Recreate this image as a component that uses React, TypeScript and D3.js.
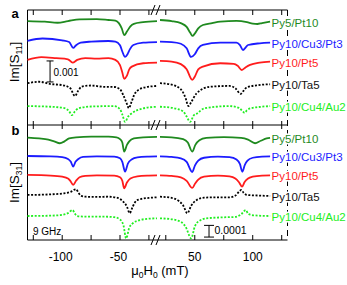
import React from "react";
import * as d3 from "d3";

// ---- data (field in mT, deviation from trace offset) ----
// panel a: Im[S11], units of 1e-4 ; panel b: Im[S31], units of 1e-5
const samples = ["Py5/Pt10", "Py10/Cu3/Pt3", "Py10/Pt5", "Py10/Ta5", "Py10/Cu4/Au2"];
const colors = ["#1f8a1f", "#1c1cff", "#ff1c1c", "#000000", "#22ee22"];
const dotted = [false, false, false, true, true];
const offsetsA = [49.5, 40, 31, 20, 9];
const offsetsB = [88.3, 71.8, 55.6, 38.5, 20.5];

const aGreenL = [[-130,0],[-115,-0.3],[-104,-0.8],[-95,0],[-85,0.8],[-70,0.9],[-60,0.5],[-54,0.2],[-51,-1],[-48.5,-3.5],[-46.3,-6.7],[-44,-5],[-41,-2.5],[-38,-1.3],[-30,-0.5],[-18,0]];
const aGreenR = [[20,0.5],[30,0],[38,-1],[43,-2.8],[46,-5.5],[48,-7.1],[50,-6],[53,-3.5],[57,-1.9],[65,-1],[72,-0.3],[86,0.1],[95,-0.5],[100,-1.2],[104,-1.4],[108,-1],[115,-0.3]];
const aBlueL = [[-130,0.1],[-117,1.2],[-100,0.3],[-94,-0.5],[-90.5,-3.3],[-88,-2],[-84,-0.8],[-75,-0.3],[-60,0],[-54,-0.3],[-50,-2],[-48,-5],[-45.6,-7.6],[-43.5,-6.3],[-41.5,-4],[-38.5,-1.9],[-30,-0.8],[-18,-0.5]];
const aBlueR = [[20,-0.3],[30,-0.5],[38,-1.3],[43,-3.5],[46.8,-7.6],[50,-6.3],[53,-3.5],[57,-1.9],[72,-0.8],[86,-0.8],[89,-2],[91.6,-4.3],[94,-3],[96,-1.9],[106,-1.1],[115,-0.8]];
const aRedL = [[-130,0],[-118,1.3],[-105,0.8],[-95,0.3],[-91,-1.3],[-87,0],[-80,0.8],[-70,0.6],[-60,0.8],[-54,0],[-50,-2.5],[-48,-6],[-46.4,-9],[-44,-7.5],[-42,-4.5],[-39.8,-3.2],[-30,-1.6],[-18,-1.3]];
const aRedR = [[20,-0.5],[30,-0.8],[38,-2],[43,-4.5],[47.8,-9.5],[50,-8],[53,-4.5],[57,-3.2],[72,-1.6],[83.6,-1.9],[87,-2.8],[90.6,-4.8],[94,-3.5],[97.7,-2.4],[106,-1.3],[115,-0.8]];
const aBlackL = [[-130,-0.1],[-120,0.6],[-110,-0.5],[-100,-1],[-93,-2.5],[-89,-6.2],[-86,-3.5],[-83,-1.7],[-75,-1.2],[-65,-1.8],[-55,-1.9],[-50,-3],[-47,-6],[-44,-10],[-42.4,-12],[-40,-9],[-37,-4.9],[-30,-2.3],[-18,-1.4]];
const aBlackR = [[20,-0.1],[30,-0.8],[38,-3],[42,-7],[44.5,-11],[47,-9],[51.6,-4.9],[63,-1.8],[80,-1.4],[85,-2.5],[89.6,-5.2],[92,-3.8],[94.8,-2.1],[105,-1],[115,-0.6]];
const aLimeL = [[-130,0],[-110,-0.3],[-98,-1],[-94,-2.5],[-91.6,-4.3],[-89,-2.5],[-86,-1.1],[-75,-0.2],[-55,0],[-50,-1.5],[-48,-4],[-45.6,-7.5],[-43,-5],[-40,-3.5],[-30,-1.1],[-18,-0.3]];
const aLimeR = [[20,-0.3],[30,-0.8],[40,-2.5],[43,-5],[46,-7.5],[49,-4.5],[52,-3.5],[58,-1.1],[80,0],[88,-0.8],[91,-2.3],[93,-3.2],[95,-2],[98,-1.1],[115,0]];

const bGreenL = [[-130,-0.8],[-120,-1.5],[-112,-2.5],[-107,-4],[-102,-5.6],[-98,-4],[-94,-1.5],[-88,-0.5],[-75,0],[-60,0],[-53,-0.5],[-50,-2],[-48,-5],[-46.4,-12.8],[-44,-7],[-42,-4],[-38,-1.5],[-30,-0.5],[-18,-0.2]];
const bGreenR = [[20,-0.2],[30,-0.5],[40,-2],[44,-5],[47.8,-12.8],[50.5,-7],[54,-3],[60,-1],[75,-0.3],[90,-1],[96,-2.5],[102,-5.6],[107,-3.5],[112,-1.5],[115,-1]];
const bBlueL = [[-130,0],[-110,-0.3],[-100,-1],[-95,-2.5],[-92.5,-5],[-90.5,-9.1],[-88.5,-5],[-86,-2.5],[-82,-0.8],[-70,-0.3],[-55,-0.5],[-50,-2],[-48,-5],[-45.6,-13.4],[-43.2,-6.5],[-40,-3],[-35,-1.2],[-25,-0.5],[-18,-0.3]];
const bBlueR = [[20,-0.3],[30,-0.8],[38,-2],[43,-5],[47.8,-13.7],[50.2,-8],[53,-4],[58,-1.5],[70,-0.5],[80,-1],[86,-3],[89,-7],[91,-13.4],[93.2,-7.5],[95.5,-4],[100,-1.5],[108,-0.5],[115,-0.3]];
const bRedL = [[-130,0],[-110,-0.5],[-100,-1.5],[-95,-3],[-93,-5],[-90.5,-8.5],[-88,-5],[-85,-2],[-80,-0.8],[-70,-0.3],[-55,-0.5],[-50,-2],[-48,-5],[-46.4,-11.4],[-44,-6.5],[-41,-3],[-35,-1.2],[-25,-0.5],[-18,-0.3]];
const bRedR = [[20,-0.3],[30,-0.8],[38,-2],[43,-5],[47.8,-11.1],[50.2,-7.5],[53,-4],[58,-1.5],[70,-0.6],[80,-1.2],[85,-3],[88,-6],[90.8,-10],[93,-6],[96,-3],[100,-1.5],[108,-0.5],[115,-0.3]];
const bBlackL = [[-130,0],[-110,0.5],[-100,1.2],[-93,2.5],[-88,4.9],[-86,2],[-84,-0.5],[-80,-1.5],[-70,-1.7],[-60,-1.5],[-52,-2.5],[-48,-5],[-44,-10],[-41.6,-15.6],[-39,-10],[-36,-5],[-32,-3.5],[-25,-2.5],[-18,-2]];
const bBlackR = [[20,-1.5],[30,-2.5],[36,-5],[40,-9],[43.6,-15.6],[47,-9],[51.7,-4.3],[58,-2.3],[70,-2],[80,-2],[85,-0.5],[88,2.5],[90.2,4.3],[92,2],[95,0],[105,-0.5],[115,-0.9]];
const bLimeL = [[-130,0],[-110,0.3],[-100,1],[-95,2.5],[-91,5.1],[-89,2],[-87,0],[-80,-0.5],[-65,-0.5],[-55,-1],[-50,-3],[-47,-8],[-44.7,-19.1],[-42,-10],[-39,-6.3],[-33,-3.5],[-25,-2.3],[-18,-2]];
const bLimeR = [[20,-2],[30,-2.8],[38,-5],[42,-9],[47,-19.1],[50,-9],[53,-4.8],[60,-2],[75,-1.1],[85,-0.8],[90,1.5],[94,5.1],[96,2],[99,0.9],[105,0.3],[115,0]];

const tracesA = [[aGreenL, aGreenR], [aBlueL, aBlueR], [aRedL, aRedR], [aBlackL, aBlackR], [aLimeL, aLimeR]];
const tracesB = [[bGreenL, bGreenR], [bBlueL, bBlueR], [bRedL, bRedR], [bBlackL, bBlackR], [bLimeL, bLimeR]];

const ticksL = [-125, -100, -75, -50, -25];
const ticksR = [25, 50, 75, 100, 125];
const labelsL = [-100, -50];
const labelsR = [50, 100];

const FONT = "'Liberation Sans', Arial, Helvetica, sans-serif";

export default function App() {
  const left = 27.5, right = 287.5;
  const top = 10, mid = 125, bottom = 240;
  const xL = d3.scaleLinear().domain([-130, -18]).range([left, 157]);
  const xR = d3.scaleLinear().domain([20, 130]).range([160, right]);
  const yA = d3.scaleLinear().domain([0, 115 / 2.1]).range([mid, top]);
  const yB = d3.scaleLinear().domain([0, 115 / 1.17]).range([bottom, mid]);

  const mkLine = (xs: any, ys: any, off: number) =>
    d3.line<number[]>().x((d) => xs(d[0])).y((d) => ys(off + d[1])).curve(d3.curveMonotoneX);

  const renderPanel = (traces: any[], offsets: number[], ys: any, key: string) =>
    traces.map((tr, i) => {
      const [L, R] = tr;
      const last = R[R.length - 1];
      const dash = dotted[i] ? "2,1.6" : undefined;
      return (
        <g key={key + i}>
          <path d={mkLine(xL, ys, offsets[i])(L) || ""} fill="none" stroke={colors[i]} strokeWidth={1.8} strokeDasharray={dash} />
          <path d={mkLine(xR, ys, offsets[i])(R) || ""} fill="none" stroke={colors[i]} strokeWidth={1.8} strokeDasharray={dash} />
          <text x={xR(last[0]) + 1.5} y={ys(offsets[i] + last[1]) + 5} fontSize={11.5} fill={colors[i] === "#000000" ? "#111" : colors[i]}
            fontFamily={FONT} stroke="#fff" strokeWidth={3} paintOrder="stroke" strokeLinejoin="round">
            {samples[i]}
          </text>
        </g>
      );
    });

  const breakMark = (y: number, k: string) => (
    <g key={k} stroke="#000" strokeWidth={1}>
      <line x1={151} y1={y + 5} x2={155} y2={y - 5} />
      <line x1={156} y1={y + 5} x2={160} y2={y - 5} />
    </g>
  );

  const tickGroup = (y: number, up: number, down: number, k: string) => (
    <g key={k} stroke="#000" strokeWidth={1}>
      {ticksL.map((t) => (
        <line key={"l" + t} x1={xL(t)} x2={xL(t)} y1={y - up} y2={y + down} />
      ))}
      {ticksR.map((t) => (
        <line key={"r" + t} x1={xR(t)} x2={xR(t)} y1={y - up} y2={y + down} />
      ))}
    </g>
  );

  return (
    <svg width={347} height={285} style={{ position: "absolute", left: 0, top: 0, background: "#fff" }} fontFamily={FONT}>
      {/* frame */}
      <g stroke="#000" strokeWidth={1} fill="none">
        <line x1={left} x2={left} y1={top} y2={bottom} />
        <line x1={left} x2={right} y1={top} y2={top} />
        <line x1={left} x2={right} y1={mid} y2={mid} />
        <line x1={left} x2={right} y1={bottom} y2={bottom} />
        <line x1={right} x2={right} y1={top} y2={bottom} strokeDasharray="6,4" />
      </g>
      {tickGroup(top, 0, 5, "t")}
      {tickGroup(mid, 4, 4, "m")}
      {tickGroup(bottom, 5, 0, "b")}
      {breakMark(top, "bk1")}
      {breakMark(mid, "bk2")}
      {breakMark(bottom, "bk3")}

      {/* tick labels */}
      {labelsL.map((t) => (
        <text key={"tl" + t} x={xL(t) - 1.5} y={261} fontSize={12} textAnchor="middle">{String(t)}</text>
      ))}
      {labelsR.map((t) => (
        <text key={"tr" + t} x={xR(t)} y={261} fontSize={12} textAnchor="middle">{String(t)}</text>
      ))}
      <text x={160} y={275} fontSize={13} textAnchor="middle">
        μ<tspan fontSize={8.5} dy={3}>0</tspan><tspan dy={-3}>H</tspan><tspan fontSize={8.5} dy={3}>0</tspan><tspan dy={-3}> (mT)</tspan>
      </text>

      {/* y labels */}
      <text transform="translate(19,62) rotate(-90)" fontSize={13.5} textAnchor="middle">
        Im[S<tspan fontSize={8.5} dy={3}>11</tspan><tspan dy={-3}>]</tspan>
      </text>
      <text transform="translate(19,182.5) rotate(-90)" fontSize={13.5} textAnchor="middle">
        Im[S<tspan fontSize={8.5} dy={3}>31</tspan><tspan dy={-3}>]</tspan>
      </text>

      {/* panel letters */}
      <text x={11.5} y={18.3} fontSize={13} fontWeight="bold">a</text>
      <text x={11.5} y={135} fontSize={13} fontWeight="bold">b</text>

      {/* traces */}
      {renderPanel(tracesA, offsetsA, yA, "a")}
      {renderPanel(tracesB, offsetsB, yB, "b")}

      {/* scale bars */}
      <g stroke="#000" strokeWidth={1}>
        <line x1={xL(-110.5)} x2={xL(-110.5)} y1={yA(20.5)} y2={yA(30.5)} />
        <line x1={xL(-110.5) - 3.5} x2={xL(-110.5) + 3.5} y1={yA(20.5)} y2={yA(20.5)} />
        <line x1={xL(-110.5) - 3.5} x2={xL(-110.5) + 3.5} y1={yA(30.5)} y2={yA(30.5)} />
        <line x1={xR(62.3)} x2={xR(62.3)} y1={yB(2.5)} y2={yB(12.5)} />
        <line x1={xR(62.3) - 5} x2={xR(62.3) + 5} y1={yB(2.5)} y2={yB(2.5)} />
        <line x1={xR(62.3) - 5} x2={xR(62.3) + 5} y1={yB(12.5)} y2={yB(12.5)} />
      </g>
      <text x={xL(-110.5) + 3.5} y={75.7} fontSize={10}>0.001</text>
      <text x={xR(62.3) + 5.5} y={233.5} fontSize={10.5}>0.0001</text>
      <text x={33} y={234.5} fontSize={10}>9 GHz</text>
    </svg>
  );
}
